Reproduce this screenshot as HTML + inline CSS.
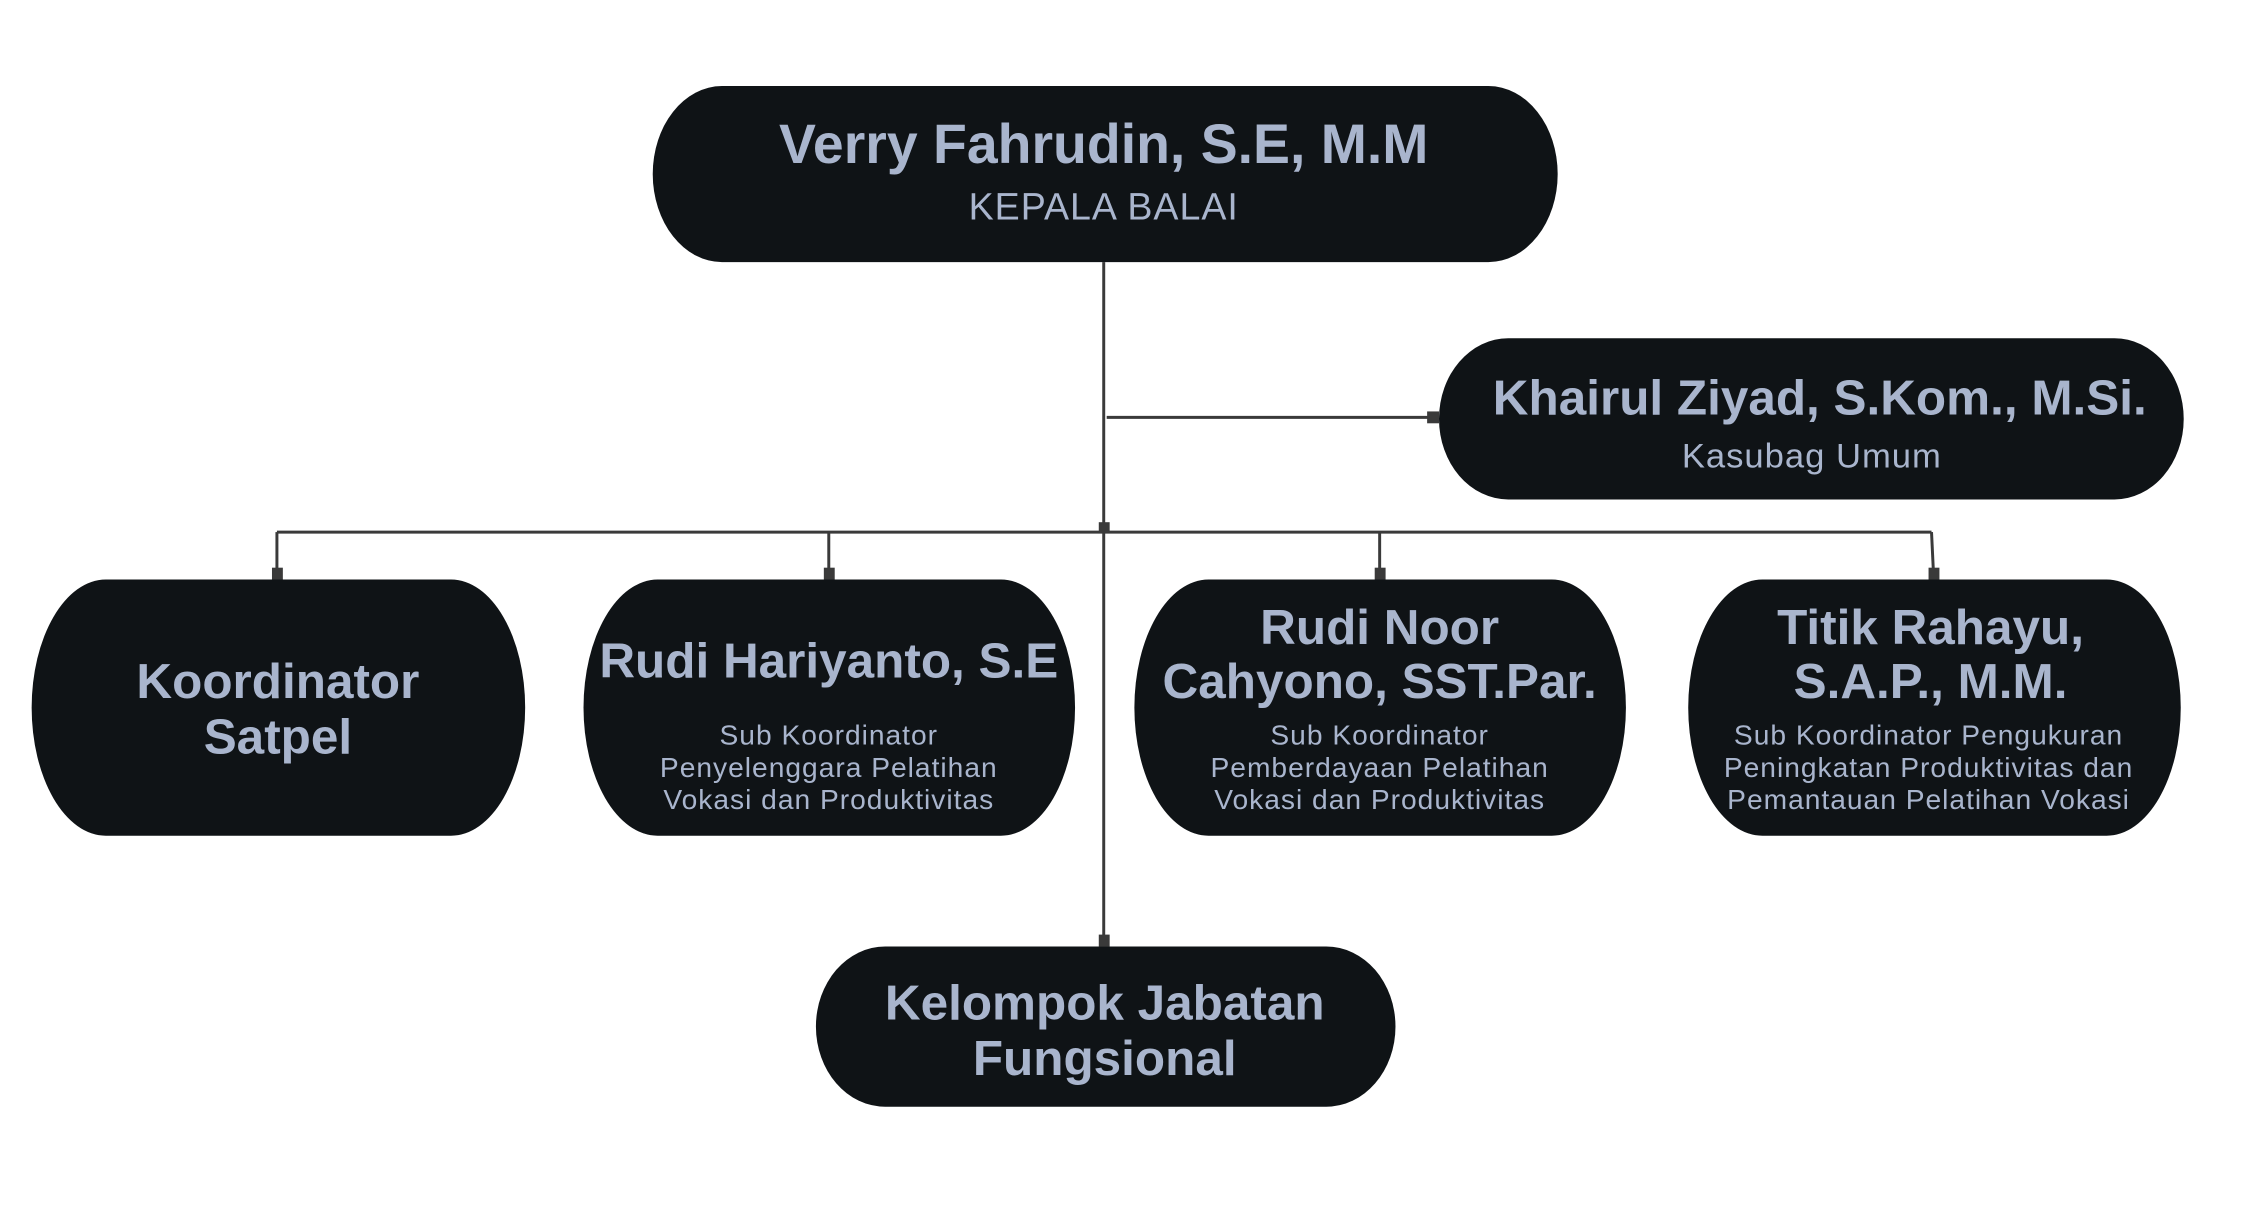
<!DOCTYPE html>
<html><head><meta charset="utf-8"><style>
html,body{margin:0;padding:0;background:#fff;}
body{width:2245px;height:1206px;position:relative;overflow:hidden;font-family:"Liberation Sans",sans-serif;}
#w{position:absolute;left:0;top:0;width:2270px;height:1220px;transform:scale(0.989);transform-origin:0 0;}
.n{position:absolute;background:#0f1316;border-radius:75px/50%;}
.t{position:absolute;transform:translate(-50%,-50%);white-space:nowrap;color:#a9b5cd;line-height:1;}
.b{font-weight:bold;font-size:50px;}
.s{font-size:28.5px;letter-spacing:1px;}
.m{font-size:35px;letter-spacing:1px;}
svg{position:absolute;left:0;top:0;}
</style></head><body><div id="w">
<svg width="2270" height="1220">
<g stroke="#3a3a3a" stroke-width="3" fill="none">
<line x1="1116" y1="265" x2="1116" y2="950"/>
<line x1="280" y1="538" x2="1953" y2="538"/>
<line x1="280" y1="538" x2="280" y2="580"/>
<line x1="838" y1="538" x2="838" y2="580"/>
<line x1="1395" y1="538" x2="1395" y2="580"/>
<line x1="1953" y1="538" x2="1955" y2="580"/>
<line x1="1119" y1="422" x2="1448" y2="422"/>
</g>
<g fill="#3a3a3a">
<rect x="1111" y="528" width="11" height="11"/>
<rect x="275" y="574" width="11" height="12"/>
<rect x="833" y="574" width="11" height="12"/>
<rect x="1390" y="574" width="11" height="12"/>
<rect x="1950" y="574" width="11" height="12"/>
<rect x="1111" y="945" width="11" height="12"/>
<rect x="1443" y="416" width="12" height="12"/>
</g>
</svg>
<div class="n" style="left:660px;top:87px;width:915px;height:178px;border-radius:70px/50%"></div>
<div class="n" style="left:1455px;top:342px;width:753px;height:163px;border-radius:70px/50%"></div>
<div class="n" style="left:32px;top:586px;width:499px;height:259px"></div>
<div class="n" style="left:590px;top:586px;width:497px;height:259px"></div>
<div class="n" style="left:1147px;top:586px;width:497px;height:259px"></div>
<div class="n" style="left:1707px;top:586px;width:498px;height:259px"></div>
<div class="n" style="left:825px;top:957px;width:586px;height:162px;border-radius:70px/50%"></div>

<div class="t b" style="left:1116px;top:146px;font-size:56px">Verry Fahrudin, S.E, M.M</div>
<div class="t m" style="left:1116px;top:210px;font-size:38px">KEPALA BALAI</div>
<div class="t b" style="left:1840px;top:402px">Khairul Ziyad, S.Kom., M.Si.</div>
<div class="t m" style="left:1832px;top:461px">Kasubag Umum</div>

<div class="t b" style="left:281px;top:689px">Koordinator</div>
<div class="t b" style="left:281px;top:745px">Satpel</div>

<div class="t b" style="left:838px;top:668px">Rudi Hariyanto, S.E</div>
<div class="t s" style="left:838px;top:744px">Sub Koordinator</div>
<div class="t s" style="left:838px;top:777px">Penyelenggara Pelatihan</div>
<div class="t s" style="left:838px;top:809px">Vokasi dan Produktivitas</div>

<div class="t b" style="left:1395px;top:634px">Rudi Noor</div>
<div class="t b" style="left:1395px;top:689px">Cahyono, SST.Par.</div>
<div class="t s" style="left:1395px;top:744px">Sub Koordinator</div>
<div class="t s" style="left:1395px;top:777px">Pemberdayaan Pelatihan</div>
<div class="t s" style="left:1395px;top:809px">Vokasi dan Produktivitas</div>

<div class="t b" style="left:1952px;top:634px">Titik Rahayu,</div>
<div class="t b" style="left:1952px;top:689px">S.A.P., M.M.</div>
<div class="t s" style="left:1950px;top:744px">Sub Koordinator Pengukuran</div>
<div class="t s" style="left:1950px;top:777px">Peningkatan Produktivitas dan</div>
<div class="t s" style="left:1950px;top:809px">Pemantauan Pelatihan Vokasi</div>

<div class="t b" style="left:1117px;top:1014px">Kelompok Jabatan</div>
<div class="t b" style="left:1117px;top:1070px">Fungsional</div>
</div></body></html>
